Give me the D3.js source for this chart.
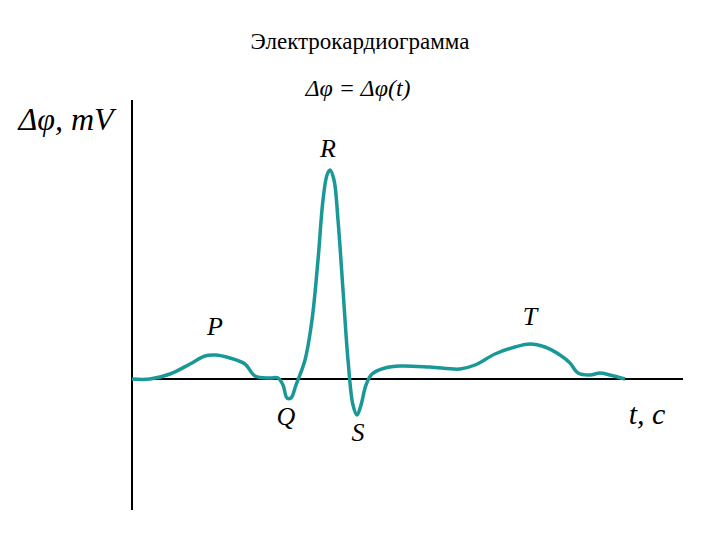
<!DOCTYPE html>
<html><head><meta charset="utf-8">
<script src="https://cdn.jsdelivr.net/npm/d3@7"></script>
<style>body{margin:0;background:#fff}text{font-family:"Liberation Serif","DejaVu Serif",serif}</style>
</head><body><svg width="720" height="540"></svg>
<script>
// time (ms-ish units) and potential (arbitrary units)
const times = [0,18,38,58,73,83,98,113,123,138,146,151,155,159,164,173,180,186,191,195,198,202,206,211,216,221,225,229,234,240,253,268,298,328,343,363,383,398,413,428,438,446,458,468,478,493];
const volts = [0,0,5,15,23,24,21,15,3,1,1,-6,-19,-19,-6,19,59,119,179,204,209,199,159,89,19,-26,-36,-26,-6,5,11,13,12,10,14,25,32,35,32,24,16,6,4,6,4,0];
const waveNames = ["P","Q","R","S","T"];
const waveLabelPos = [[83,44],[154,-46],[196,222],[226,-62],[398,54]];

const svg = d3.select("svg");
const x = d3.scaleLinear().domain([0, 551]).range([132, 683]);
const y = d3.scaleLinear().domain([0, 100]).range([379, 279]);

// axes
svg.append("line").attr("x1", 132).attr("x2", 132).attr("y1", 100).attr("y2", 510)
  .attr("stroke", "#000").attr("stroke-width", 2);
svg.append("line").attr("x1", 132).attr("x2", 683).attr("y1", y(0)).attr("y2", y(0))
  .attr("stroke", "#000").attr("stroke-width", 2);

const line = d3.line().x((d, i) => x(times[i])).y((d, i) => y(volts[i])).curve(d3.curveCatmullRom);
svg.append("path").datum(volts).attr("d", line)
  .attr("fill", "none").attr("stroke", "#1a9898").attr("stroke-width", 3.5);

svg.selectAll(".wl").data(waveNames).enter().append("text")
  .attr("x", (d, i) => x(waveLabelPos[i][0])).attr("y", (d, i) => y(waveLabelPos[i][1]))
  .attr("text-anchor", "middle").attr("font-size", 26).attr("font-style", "italic").text(d => d);

svg.append("text").attr("x", 360).attr("y", 49).attr("text-anchor", "middle")
  .attr("font-size", 23).text("Электрокардиограмма");
svg.append("text").attr("x", 358).attr("y", 96).attr("text-anchor", "middle")
  .attr("font-size", 24).attr("font-style", "italic").text("Δφ = Δφ(t)");
svg.append("text").attr("x", 66).attr("y", 130).attr("text-anchor", "middle")
  .attr("font-size", 32).attr("font-style", "italic").text("Δφ, mV");
svg.append("text").attr("x", 647).attr("y", 424).attr("text-anchor", "middle")
  .attr("font-size", 30).attr("font-style", "italic").text("t, c");
</script></body></html>
